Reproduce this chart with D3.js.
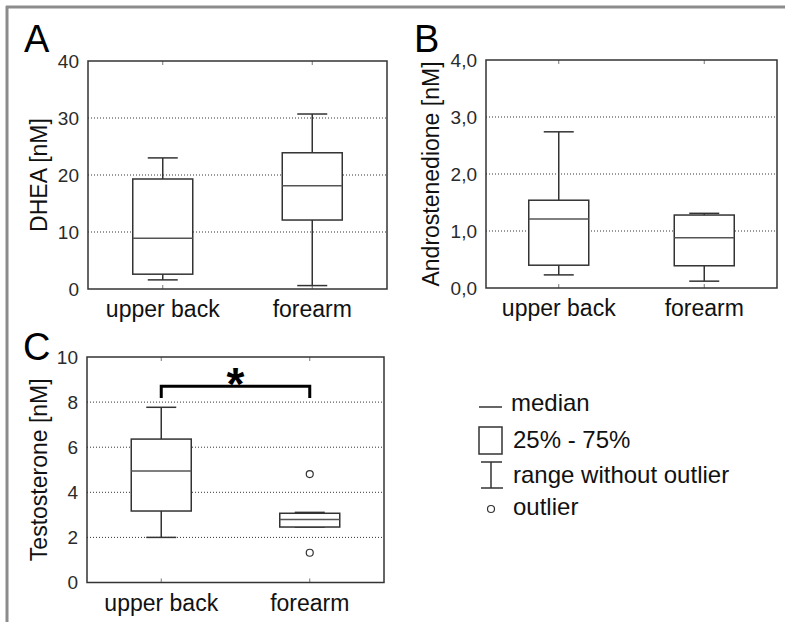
<!DOCTYPE html>
<html>
<head>
<meta charset="utf-8">
<script src="https://cdn.jsdelivr.net/npm/d3@7"></script>
<style>
  body { margin: 0; background: #fff; }
  svg { display: block; font-family: "Liberation Sans", Arial, sans-serif; }
</style>
</head>
<body>
<script>
// categories shared by all three panels
var categories = ["upper back", "forearm"];

// box stats per category: [whisker low, Q1, median, Q3, whisker high]
var dheaBoxes = [[1.6, 2.6, 8.9, 19.3, 23.0], [0.6, 12.1, 18.1, 23.9, 30.7]];
var androBoxes = [[0.23, 0.40, 1.21, 1.54, 2.74], [0.12, 0.39, 0.88, 1.28, 1.31]];
var testoBoxes = [[2.0, 3.17, 4.94, 6.36, 7.77], [2.46, 2.46, 2.79, 3.07, 3.11]];
var testoOutliers = [[], [4.81, 1.32]];

var dheaTicks = [0, 10, 20, 30, 40];
var androTicks = [0, 1, 2, 3, 4];
var testoTicks = [0, 2, 4, 6, 8, 10];

// significance bracket in panel C (value units)
var bracketTop = 8.7, bracketFoot = 8.18;

var width = 785, height = 629;
var ink = "#333";

var svg = d3.select("body").append("svg")
    .attr("width", width)
    .attr("height", height);

// gray page frame (top + left)
svg.append("line").attr("x1", 6).attr("x2", width).attr("y1", 7).attr("y2", 7)
    .attr("stroke", "#8c8c8c").attr("stroke-width", 3);
svg.append("line").attr("x1", 7).attr("x2", 7).attr("y1", 6).attr("y2", 622)
    .attr("stroke", "#8c8c8c").attr("stroke-width", 3);

function panel(opt) {
    var x = d3.scaleBand().domain(categories).range([opt.left, opt.right]);
    var y = d3.scaleLinear().domain([opt.ticks[0], opt.ticks[opt.ticks.length - 1]])
        .range([opt.bottom, opt.top]);
    var g = svg.append("g");
    var boxW = 60, capW = 30;

    // dotted grid
    g.selectAll(".grid").data(opt.ticks.slice(1, -1)).enter().append("line")
        .attr("x1", opt.left).attr("x2", opt.right)
        .attr("y1", function (d) { return y(d); }).attr("y2", function (d) { return y(d); })
        .attr("stroke", ink).attr("stroke-width", 1).attr("stroke-dasharray", "1,2");

    // y axis tick labels
    var yAxis = d3.axisLeft(y).tickValues(opt.ticks).tickSize(0).tickPadding(9)
        .tickFormat(opt.format);
    var ya = g.append("g").attr("transform", "translate(" + opt.left + ",0)").call(yAxis);
    ya.select(".domain").remove();
    ya.selectAll("text").attr("font-size", 19).attr("fill", "#2a2a2a")
        .attr("font-family", "Liberation Sans, Arial, sans-serif");

    // x axis category labels
    var xAxis = d3.axisBottom(x).tickSize(0).tickPadding(12);
    var xa = g.append("g").attr("transform", "translate(0," + opt.bottom + ")").call(xAxis);
    xa.select(".domain").remove();
    xa.selectAll("text").attr("font-size", 23).attr("fill", "#111")
        .attr("font-family", "Liberation Sans, Arial, sans-serif");

    // small category ticks, inside top and bottom
    categories.forEach(function (c) {
        var cx = x(c) + x.bandwidth() / 2;
        g.append("line").attr("x1", cx).attr("x2", cx).attr("y1", opt.top).attr("y2", opt.top + 4)
            .attr("stroke", "#777").attr("stroke-width", 1);
        g.append("line").attr("x1", cx).attr("x2", cx).attr("y1", opt.bottom).attr("y2", opt.bottom - 4)
            .attr("stroke", "#777").attr("stroke-width", 1);
    });

    // boxes
    var bx = g.selectAll(".box").data(opt.boxes).enter().append("g")
        .attr("transform", function (d, i) {
            return "translate(" + (x(categories[i]) + x.bandwidth() / 2) + ",0)";
        });
    bx.append("line").attr("x1", 0).attr("x2", 0)
        .attr("y1", function (d) { return y(d[0]); }).attr("y2", function (d) { return y(d[4]); })
        .attr("stroke", ink).attr("stroke-width", 1.5);
    bx.append("line").attr("x1", -capW / 2).attr("x2", capW / 2)
        .attr("y1", function (d) { return y(d[0]); }).attr("y2", function (d) { return y(d[0]); })
        .attr("stroke", ink).attr("stroke-width", 1.5);
    bx.append("line").attr("x1", -capW / 2).attr("x2", capW / 2)
        .attr("y1", function (d) { return y(d[4]); }).attr("y2", function (d) { return y(d[4]); })
        .attr("stroke", ink).attr("stroke-width", 1.5);
    bx.append("rect").attr("x", -boxW / 2).attr("width", boxW)
        .attr("y", function (d) { return y(d[3]); })
        .attr("height", function (d) { return y(d[1]) - y(d[3]); })
        .attr("fill", "#fff").attr("stroke", ink).attr("stroke-width", 1.5);
    bx.append("line").attr("x1", -boxW / 2).attr("x2", boxW / 2)
        .attr("y1", function (d) { return y(d[2]); }).attr("y2", function (d) { return y(d[2]); })
        .attr("stroke", "#555").attr("stroke-width", 1.5);

    if (opt.outliers) {
        opt.outliers.forEach(function (list, i) {
            var cx = x(categories[i]) + x.bandwidth() / 2;
            g.selectAll(null).data(list).enter().append("circle")
                .attr("cx", cx).attr("cy", function (d) { return y(d); }).attr("r", 3.5)
                .attr("fill", "#fff").attr("stroke", ink).attr("stroke-width", 1.2);
        });
    }

    // frame
    g.append("rect").attr("x", opt.left).attr("y", opt.top)
        .attr("width", opt.right - opt.left).attr("height", opt.bottom - opt.top)
        .attr("fill", "none").attr("stroke", ink).attr("stroke-width", 1.5);

    // y title
    g.append("text")
        .attr("transform", "translate(" + opt.titleX + "," + ((opt.top + opt.bottom) / 2) + ") rotate(-90)")
        .attr("text-anchor", "middle").attr("dy", "0.35em")
        .attr("font-size", opt.titleSize).attr("fill", "#111")
        .text(opt.title);

    // panel letter
    g.append("text").attr("x", opt.letterX).attr("y", opt.letterY)
        .attr("font-size", 38).attr("fill", "#000").text(opt.letter);

    return { x: x, y: y, g: g };
}

panel({ left: 88, right: 387, top: 61, bottom: 289, ticks: dheaTicks, boxes: dheaBoxes,
    format: d3.format("d"), title: "DHEA [nM]", titleX: 39, titleSize: 23,
    letter: "A", letterX: 24, letterY: 52 });

panel({ left: 486, right: 777, top: 60, bottom: 288, ticks: androTicks, boxes: androBoxes,
    format: function (d) { return d3.format(".1f")(d).replace(".", ","); },
    title: "Androstenedione [nM]", titleX: 431, titleSize: 23,
    letter: "B", letterX: 414, letterY: 52 });

var pc = panel({ left: 87, right: 384, top: 357, bottom: 582.5, ticks: testoTicks, boxes: testoBoxes,
    outliers: testoOutliers, format: d3.format("d"), title: "Testosterone [nM]", titleX: 39, titleSize: 23,
    letter: "C", letterX: 23, letterY: 360 });

// significance bracket
var bx1 = pc.x(categories[0]) + pc.x.bandwidth() / 2,
    bx2 = pc.x(categories[1]) + pc.x.bandwidth() / 2;
pc.g.append("path")
    .attr("d", "M" + bx1 + "," + pc.y(bracketFoot) + "V" + pc.y(bracketTop) + "H" + bx2 + "V" + pc.y(bracketFoot))
    .attr("fill", "none").attr("stroke", "#000").attr("stroke-width", 3);
pc.g.append("text").attr("x", (bx1 + bx2) / 2).attr("y", pc.y(bracketTop) + 14)
    .attr("text-anchor", "middle").attr("font-size", 46).attr("font-weight", "bold")
    .text("*");

// legend
var legend = svg.append("g").attr("font-size", 24).attr("fill", "#111");
var legendItems = ["median", "25% - 75%", "range without outlier", "outlier"];
var legendY = [411, 448, 483, 515];
legend.selectAll("text").data(legendItems).enter().append("text")
    .attr("x", function (d, i) { return i === 0 ? 511 : 513; })
    .attr("y", function (d, i) { return legendY[i]; })
    .text(function (d) { return d; });
legend.append("line").attr("x1", 479).attr("x2", 502).attr("y1", 407).attr("y2", 407)
    .attr("stroke", ink).attr("stroke-width", 1.5);
legend.append("rect").attr("x", 479).attr("y", 427).attr("width", 23).attr("height", 27)
    .attr("fill", "none").attr("stroke", ink).attr("stroke-width", 1.5);
legend.append("path").attr("d", "M481,462H502M491,462V488M481,488H503")
    .attr("fill", "none").attr("stroke", ink).attr("stroke-width", 1.5);
legend.append("circle").attr("cx", 491).attr("cy", 509).attr("r", 3.5)
    .attr("fill", "#fff").attr("stroke", ink).attr("stroke-width", 1.2);
</script>
</body>
</html>
